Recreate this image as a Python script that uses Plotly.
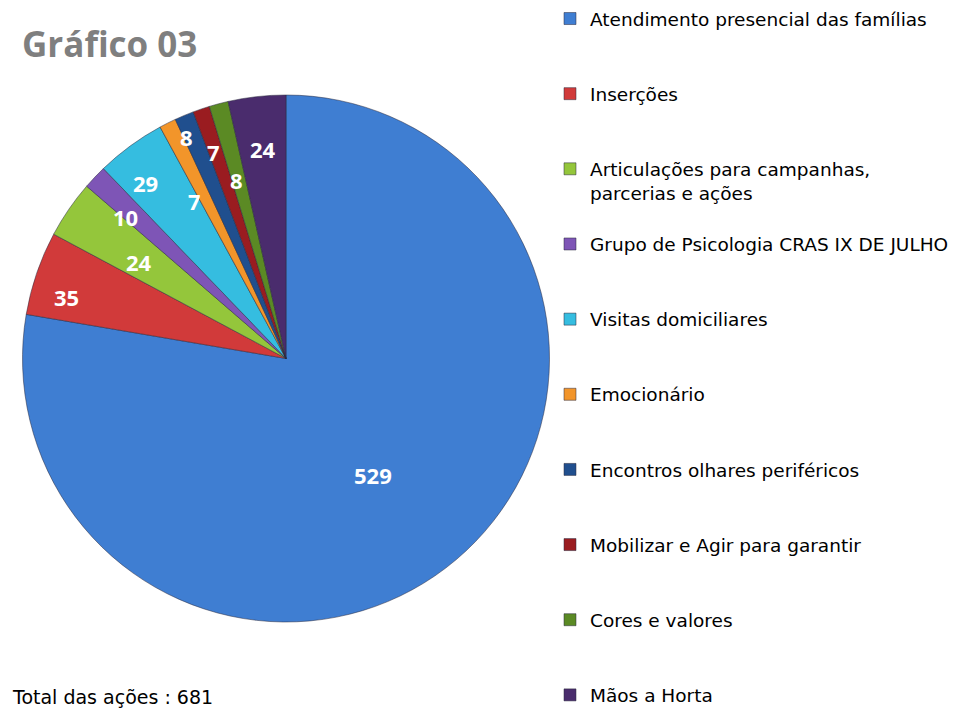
import math
import plotly.graph_objects as go

labels = [
    "Atendimento presencial das famílias",
    "Inserções",
    "Articulações para campanhas,<br>parcerias e ações",
    "Grupo de Psicologia CRAS IX DE JULHO",
    "Visitas domiciliares",
    "Emocionário",
    "Encontros olhares periféricos",
    "Mobilizar e Agir para garantir",
    "Cores e valores",
    "Mãos a Horta",
]
values = [529, 35, 24, 10, 29, 7, 8, 7, 8, 24]
colors = ["#3F7ED2", "#D13A3A", "#94C63B", "#7E55B6", "#35BDE0",
          "#F2952A", "#204F8E", "#9A1C20", "#5B8A24", "#4A2C6D"]
label_radius = [0.552, 0.862, 0.666, 0.81, 0.85, 0.69, 0.92, 0.83, 0.70, 0.80]
label_angle_offset = [3.5, -3.3, -1.3, -2.1, -2.4, -3.5, -1.5, -0.5, -0.7, 0.0]
title_text = "Gráfico 03"
total_text = "Total das ações : 681"

W, H = 964, 709
pie_x = [22, 550]
pie_y = [95, 622]

def legend_label(s, last):
    if last:
        return s
    n = s.count("<br>") + 1
    return s + "<br> " * (3 - n)

fig = go.Figure(go.Pie(
    labels=[legend_label(l, i == len(labels) - 1) for i, l in enumerate(labels)],
    values=values,
    sort=False,
    direction="clockwise",
    rotation=0,
    marker=dict(colors=colors, line=dict(color="rgba(40,40,60,0.5)", width=1)),
    textinfo="none",
    hoverinfo="label+value",
    domain=dict(x=[pie_x[0] / W, pie_x[1] / W], y=[1 - pie_y[1] / H, 1 - pie_y[0] / H]),
))

cx = (pie_x[0] + pie_x[1]) / 2
cy = (pie_y[0] + pie_y[1]) / 2
R = (pie_x[1] - pie_x[0]) / 2
total = sum(values)
cum = 0
annotations = []
for v, rf, off in zip(values, label_radius, label_angle_offset):
    mid = (cum + v / 2) / total * 2 * math.pi + math.radians(off)
    cum += v
    px = cx + rf * R * math.sin(mid)
    py = cy - rf * R * math.cos(mid)
    annotations.append(dict(
        x=px / W, y=1 - py / H, xref="paper", yref="paper",
        xanchor="center", yanchor="middle",
        text=f"<b>{v}</b>", showarrow=False,
        font=dict(family="Open Sans", size=22, color="white"),
    ))

annotations.append(dict(
    x=20 / W, y=1 - 43 / H, xref="paper", yref="paper", xanchor="left", yanchor="middle",
    text=f"<b>{title_text}</b>", showarrow=False,
    font=dict(family="Open Sans", size=35, color="#7F7F7F"),
))
annotations.append(dict(
    x=10 / W, y=1 - 697 / H, xref="paper", yref="paper", xanchor="left", yanchor="middle",
    text=total_text, showarrow=False,
    font=dict(family="DejaVu Sans", size=19, color="black"),
))

fig.update_layout(
    width=W, height=H,
    margin=dict(l=0, r=0, t=0, b=0),
    paper_bgcolor="white",
    plot_bgcolor="white",
    showlegend=True,
    legend=dict(
        x=550 / W, y=1 - 7 / H, xanchor="left", yanchor="top",
        font=dict(family="DejaVu Sans", size=18.5, color="black"),
        valign="top", itemwidth=30, tracegroupgap=0,
        bgcolor="rgba(0,0,0,0)", maxheight=800,
    ),
    annotations=annotations,
)

fig.write_html("out.html", config={"displayModeBar": False},
               post_script="document.body.style.margin='0px';document.body.style.overflow='hidden';")
